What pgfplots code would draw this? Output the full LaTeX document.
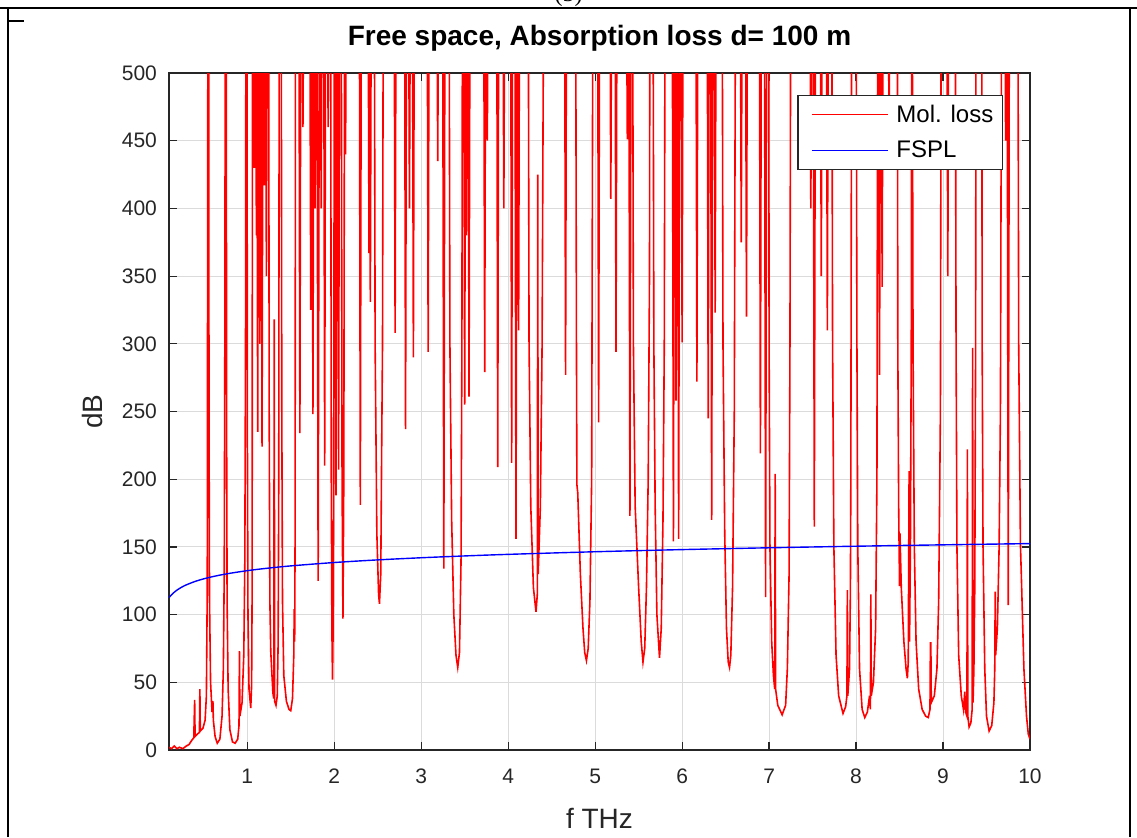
\documentclass[border=0pt]{standalone}
\usepackage{fontspec}
\setmainfont{Liberation Sans}
\newfontfamily\serifnum{Liberation Serif}
\usepackage{pgfplots}
\pgfplotsset{compat=1.18}
\definecolor{axgray}{HTML}{262626}
\begin{document}
\begin{tikzpicture}
\useasboundingbox (0pt,0pt) rectangle (568.5pt,418.5pt);
\draw[line width=1pt] (0pt,414.5pt) -- (568.5pt,414.5pt);
\draw[line width=1pt] (4pt,0pt) -- (4pt,414.5pt);
\draw[line width=1pt] (565pt,0pt) -- (565pt,414.5pt);
\draw[line width=0.8pt] (4pt,408pt) -- (12pt,408pt);
\node[anchor=south, inner sep=0pt, font=\serifnum\fontsize{12}{14}\selectfont] at (284.25pt,415pt) {(5)};
\begin{axis}[
  at={(84.5pt,43.5pt)}, anchor=south west,
  scale only axis, width=430.5pt, height=338.5pt,
  xmin=0.1, xmax=10, ymin=0, ymax=500,
  xtick={1,2,3,4,5,6,7,8,9,10}, ytick={0,50,100,150,200,250,300,350,400,450,500},
  grid=major, major grid style={color=black!14, line width=0.5pt},
  tick align=inside, xtick pos=both, ytick pos=both,
  xticklabel pos=lower, yticklabel pos=left,
  major tick length=4pt,
  tick style={draw=axgray, line width=0.6pt},
  axis line style={draw=axgray, line width=0.8pt},
  /pgf/number format/assume math mode=true,
  ticklabel style={font=\fontsize{10.5}{12}\selectfont, text=axgray},
  xticklabel style={yshift=-6pt},
  yticklabel style={xshift=-2.5pt},
  title={Free space, Absorption loss d= 100 m},
  title style={at={(axis description cs:0.5,1.0222)}, anchor=base, font=\bfseries\fontsize{14}{16}\selectfont, inner sep=0pt},
  xlabel={f THz}, ylabel={dB},
  xlabel style={at={(axis description cs:0.5,-0.1004)}, anchor=center, font=\fontsize{14}{16}\selectfont, text=axgray, inner sep=0pt},
  ylabel style={at={(axis description cs:-0.0894,0.5)}, anchor=center, font=\fontsize{14}{16}\selectfont, text=axgray, inner sep=0pt},
  legend style={at={(0.9686,0.9675)}, anchor=north east, draw=axgray, line width=0.6pt, fill=white,
    font=\fontsize{12}{14}\selectfont, inner xsep=0.5pt, inner ysep=0.5pt, cells={anchor=west},
    nodes={inner sep=4pt}, /tikz/every odd column/.append style={column sep=0pt}},
  legend image code/.code={\path (0pt,0pt); \draw[#1, line width=0.6pt] (6pt,0pt) -- (44pt,0pt);},
]
\addplot[draw=red, color=red, line width=0.8pt] coordinates {
(0.10,2) (0.13,1) (0.16,3) (0.19,1) (0.22,2) (0.26,1) (0.30,3) (0.33,4) (0.36,7) (0.385,9)
(0.395,37) (0.40,10) (0.43,12) (0.45,13) (0.455,45) (0.46,14) (0.49,16) (0.515,22) (0.53,40) (0.54,120)
(0.548,600) (0.556,600) (0.560,250) (0.566,110) (0.578,50) (0.595,28) (0.605,36) (0.61,22) (0.63,10) (0.655,5)
(0.685,8) (0.71,25) (0.725,60) (0.735,130) (0.742,300) (0.748,600) (0.758,600) (0.762,250) (0.768,110) (0.780,45)
(0.80,15) (0.83,6) (0.86,5) (0.89,8) (0.905,18) (0.91,73) (0.915,25) (0.94,35) (0.96,70) (0.972,140)
(0.98,300) (0.985,600) (0.995,600) (1.002,220) (1.008,100) (1.02,45) (1.04,31) (1.05,48) (1.056,120) (1.06,600)
(1.068,600) (1.08,430) (1.092,600) (1.093,600) (1.105,380) (1.117,600) (1.108,600) (1.12,235) (1.132,600)
(1.133,600) (1.145,300) (1.157,600) (1.158,600) (1.17,224) (1.182,600) (1.183,600) (1.195,417) (1.207,600)
(1.208,600) (1.22,350) (1.232,600)
(1.245,600) (1.252,250) (1.26,110) (1.27,73) (1.28,60) (1.295,42) (1.305,38) (1.31,318) (1.315,36) (1.33,33)
(1.345,40) (1.355,80) (1.362,200) (1.368,600) (1.39,600) (1.397,250) (1.405,110) (1.42,55) (1.45,36) (1.48,30)
(1.50,29) (1.52,38) (1.535,70) (1.54,104) (1.545,80) (1.55,160) (1.555,600)
(1.593,600) (1.605,234) (1.617,600) (1.628,600) (1.64,460) (1.652,600)
(1.718,600) (1.73,325) (1.742,600) (1.743,600) (1.755,248) (1.767,600) (1.768,600) (1.78,400) (1.792,600)
(1.8,600) (1.815,125) (1.83,600) (1.838,600) (1.85,400) (1.862,600) (1.878,600) (1.89,210) (1.902,600)
(1.918,600) (1.93,460) (1.942,600)
(1.958,600) (1.966,200) (1.973,90) (1.98,52) (1.987,90) (1.994,200) (2.002,600)
(2.008,600) (2.02,188) (2.032,600) (2.038,600) (2.05,207) (2.062,600)
(2.08,600) (2.09,200) (2.10,97) (2.11,200) (2.12,600) (2.122,600) (2.13,440) (2.142,600)
(2.288,600) (2.30,181) (2.312,600) (2.388,600) (2.40,367) (2.412,600) (2.403,600) (2.415,331) (2.427,600)
(2.46,600) (2.47,300) (2.49,160) (2.51,115) (2.52,108) (2.535,130) (2.545,219) (2.555,300) (2.565,600)
(2.688,600) (2.70,308) (2.712,600) (2.808,600) (2.82,237) (2.832,600) (2.853,600) (2.865,400) (2.877,600)
(2.898,600) (2.91,290) (2.922,600)
(3.068,600) (3.08,294) (3.092,600) (3.178,600) (3.19,435) (3.202,600) (3.246,600) (3.26,134) (3.274,600)
(3.32,600) (3.33,300) (3.35,170) (3.375,100) (3.40,70) (3.42,61) (3.44,72) (3.458,140) (3.468,300) (3.475,600)
(3.488,600) (3.50,255) (3.512,600) (3.508,600) (3.52,380) (3.532,600) (3.538,600) (3.55,261) (3.562,600)
(3.718,600) (3.73,279) (3.742,600) (3.748,600) (3.76,450) (3.772,600) (3.868,600) (3.88,209) (3.892,600)
(3.938,600) (3.95,400) (3.962,600)
(4.028,600) (4.04,212) (4.052,600) (4.076,600) (4.09,156) (4.104,600) (4.108,600) (4.12,310) (4.132,600)
(4.23,600) (4.24,300) (4.26,180) (4.29,120) (4.32,102) (4.335,115) (4.34,425) (4.345,130) (4.37,180) (4.39,300) (4.41,600)
(4.648,600) (4.66,277) (4.672,600)
(4.775,600) (4.785,300) (4.79,196) (4.80,190) (4.83,130) (4.86,90) (4.88,72) (4.90,66) (4.92,75) (4.94,110) (4.96,200) (4.975,600)
(5.028,600) (5.04,242) (5.052,600) (5.168,600) (5.18,407) (5.192,600) (5.228,600) (5.24,294) (5.252,600)
(5.358,600) (5.37,451) (5.382,600) (5.386,600) (5.40,173) (5.414,600)
(5.43,600) (5.44,300) (5.46,180) (5.50,120) (5.53,80) (5.55,65) (5.57,75) (5.59,120) (5.61,200) (5.625,350) (5.63,600)
(5.665,600) (5.675,300) (5.69,180) (5.71,100) (5.74,68) (5.76,90) (5.78,170) (5.795,300) (5.805,600)
(5.886,600) (5.90,154) (5.914,600) (5.918,600) (5.93,258) (5.942,600) (5.946,600) (5.96,156) (5.974,600)
(5.988,600) (6.0,301) (6.012,600) (6.158,600) (6.17,272) (6.182,600) (6.288,600) (6.30,245) (6.312,600)
(6.326,600) (6.34,170) (6.354,600) (6.368,600) (6.38,323) (6.392,600)
(6.46,600) (6.47,300) (6.49,160) (6.51,90) (6.53,65) (6.545,61) (6.56,70) (6.58,120) (6.60,250) (6.615,600)
(6.668,600) (6.68,375) (6.692,600) (6.728,600) (6.74,320) (6.752,600) (6.888,600) (6.90,219) (6.912,600)
(6.946,600) (6.96,113) (6.974,600)
(6.995,600) (7.0,300) (7.01,150) (7.03,80) (7.05,55) (7.065,45) (7.07,204) (7.075,45) (7.10,33) (7.15,26)
(7.19,33) (7.21,60) (7.23,130) (7.24,300) (7.25,600)
(7.468,600) (7.48,400) (7.492,600) (7.506,600) (7.52,165) (7.534,600) (7.588,600) (7.60,350) (7.612,600)
(7.658,600) (7.67,310) (7.682,600)
(7.72,600) (7.73,300) (7.745,150) (7.77,70) (7.80,40) (7.85,27) (7.88,32) (7.895,40) (7.90,118) (7.905,40)
(7.925,60) (7.935,118) (7.94,200) (7.95,600)
(8.0,600) (8.01,300) (8.02,150) (8.04,60) (8.07,30) (8.10,24) (8.13,28) (8.155,40) (8.165,30) (8.17,115)
(8.175,40) (8.20,50) (8.225,90) (8.24,200) (8.25,600)
(8.258,600) (8.27,277) (8.282,600) (8.288,600) (8.30,342) (8.312,600) (8.368,600) (8.38,450) (8.392,600)
(8.475,600) (8.48,300) (8.49,180) (8.50,121) (8.505,160) (8.52,120) (8.55,80) (8.575,60) (8.59,53) (8.60,65)
(8.61,206) (8.615,80) (8.625,150) (8.635,300) (8.64,600)
(8.645,600) (8.655,300) (8.67,150) (8.69,80) (8.72,45) (8.76,30) (8.80,25) (8.83,24) (8.85,30) (8.855,79)
(8.86,79) (8.865,35) (8.90,40) (8.93,60) (8.95,110) (8.97,250) (8.98,600)
(9.043,600) (9.055,350) (9.067,600)
(9.14,600) (9.15,300) (9.16,150) (9.18,70) (9.21,40) (9.235,30) (9.25,43) (9.26,28) (9.275,25) (9.28,222)
(9.285,25) (9.30,17) (9.32,20) (9.335,30) (9.34,297) (9.345,35) (9.355,60) (9.365,120) (9.375,300) (9.38,600)
(9.445,600) (9.45,300) (9.46,150) (9.48,60) (9.50,25) (9.53,14) (9.56,18) (9.585,35) (9.595,60) (9.60,117)
(9.605,70) (9.625,90) (9.645,150) (9.66,250) (9.675,600)
(9.708,600) (9.72,450) (9.732,600) (9.736,600) (9.75,107) (9.764,600)
(9.86,600) (9.87,300) (9.89,152) (9.90,130) (9.93,60) (9.96,25) (9.98,12) (10.0,8)
};
\addlegendentry{Mol. loss}
\addplot[draw=blue, color=blue, line width=0.7pt, smooth] coordinates {
(0.1,112.45) (0.12,114.03) (0.15,115.97) (0.2,118.47) (0.25,120.41) (0.3,121.99) (0.4,124.49) (0.5,126.43)
(0.6,128.01) (0.7,129.35) (0.8,130.51) (1.0,132.45) (1.2,134.03) (1.5,135.97) (2,138.47) (2.5,140.41)
(3,141.99) (3.5,143.33) (4,144.49) (5,146.43) (6,148.01) (7,149.35) (8,150.51) (9,151.53) (10,152.45)
};
\addlegendentry{FSPL}
\end{axis}
\end{tikzpicture}
\end{document}
